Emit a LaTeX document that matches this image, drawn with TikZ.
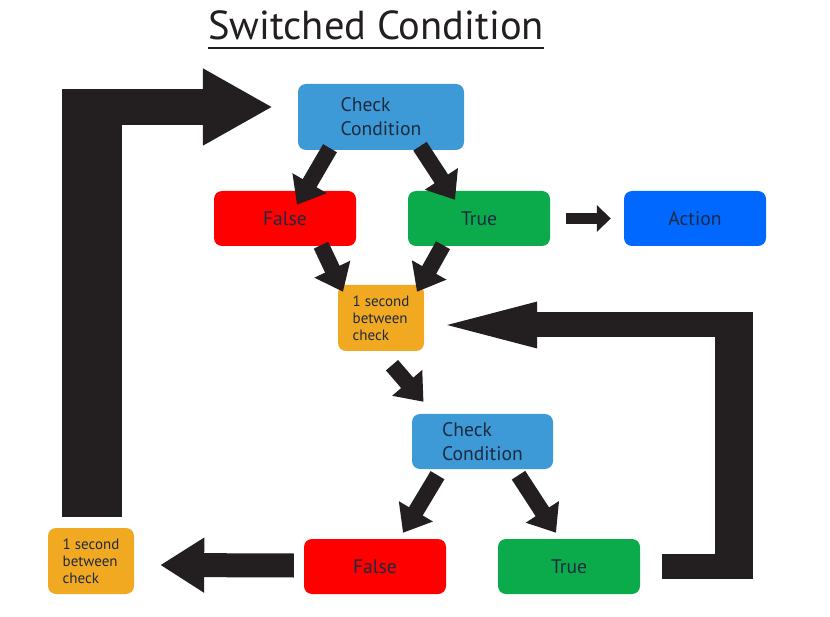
\documentclass[tikz,border=0pt]{standalone}
\usepackage{fontspec}
\setmainfont{PT Sans}
\usetikzlibrary{arrows.meta,calc}
\definecolor{chkblue}{HTML}{3D9AD6}
\definecolor{falsered}{HTML}{FE0000}
\definecolor{truegreen}{HTML}{0BAB4B}
\definecolor{actionblue}{HTML}{0068FE}
\definecolor{waitorange}{HTML}{F2A922}
\definecolor{arrowblack}{HTML}{231F20}
\definecolor{boxtext}{HTML}{1E2A40}
\begin{document}
\begin{tikzpicture}[x=1pt,y=-1pt,
		box/.style={rounded corners=8pt, minimum width=142pt, minimum height=55pt, inner sep=0pt, text=boxtext, font=\fontsize{19.6}{24}\selectfont},
		wait/.style={box, fill=waitorange, minimum width=86pt, minimum height=66pt, align=left, font=\fontsize{15}{17}\selectfont},
		bar/.style={draw=arrowblack},
		flow/.style={bar, line width=16pt, -{Triangle[length=25pt,width=38pt]}}]
	\useasboundingbox[fill=white] (0,0) rectangle (830,617);
	\node[anchor=base, inner sep=0pt, text=arrowblack, font=\fontsize{40.5}{42}\selectfont] (title) at (376,40) {Switched Condition};
	\draw[arrowblack, line width=1.6pt] ([yshift=-8pt]title.base west) -- ([yshift=-8pt]title.base east);

	\node[box, fill=chkblue, minimum width=166pt, minimum height=66pt, align=left] (chk1) at (381,117) {Check\\Condition};
	\node[box, fill=falsered] (false1) at (285,218.5) {False};
	\node[box, fill=truegreen] (true1) at (479,218.5) {True};
	\node[box, fill=actionblue] (action) at (695,218.5) {Action};
	\node[wait] (wait1) at (381,318) {1 second\\between\\check};
	\node[box, fill=chkblue, minimum width=141pt, align=left] (chk2) at (482.5,441.5) {Check\\Condition};
	\node[box, fill=falsered] (false2) at (375,566.5) {False};
	\node[box, fill=truegreen] (true2) at (569,566.5) {True};
	\node[wait] (wait2) at (91,561) {1 second\\between\\check};

	\draw[flow] ($(chk1.south)+(-51,-2)$) -- ($(false1.north)+(12,14)$);
	\draw[flow] ($(chk1.south)+(39,-4)$) -- ($(true1.north)+(-24,9)$);
	\draw[flow] ($(false1.south)+(36,-1)$) -- ($(wait1.north)+(-38,7)$);
	\draw[flow] ($(true1.south)+(-36,-1)$) -- ($(wait1.north)+(36,7)$);
	\draw[flow] ($(wait1.south)+(11,14)$) -- ($(chk2.north)+(-59,-12)$);
	\draw[flow] ($(chk2.south)+(-45,6)$) -- ($(false2.north)+(28,-6)$);
	\draw[flow] ($(chk2.south)+(36,6)$) -- ($(true2.north)+(-13,-6)$);
	\draw[bar, line width=11pt, -{Triangle[length=14pt,width=26pt]}] ($(true1.east)+(16,0)$) -- ($(action.west)+(-13,0)$);
	\draw[bar, line width=24pt, -{Triangle[length=44pt,width=52pt]}] ($(false2.west)+(-10,-1)$) -- ($(wait2.east)+(26,4)$);

	% loop back to the top
	\coordinate (ltail) at ($(wait2.north)+(1,-11)$);
	\coordinate (ltip) at ($(chk1.west)+(-25,-10)$);
	\draw[bar, line width=60pt] (ltail) -- ($(ltail |- ltip)+(0,-18)$);
	\draw[bar, line width=36pt, -{Triangle[length=70pt,width=72pt]}] ($(ltail |- ltip)+(-30,0)$) -- (ltip);

	% loop back to the wait
	\coordinate (rtail) at ($(true2.east)+(22,0)$);
	\coordinate (rtip) at ($(wait1.east)+(23,7)$);
	\draw[bar, line width=25pt] (rtail) -- ++(91,0);
	\draw[bar, line width=38pt] ($(rtail)+(72,12.5)$) -- ($(rtip -| rtail)+(72,-12.5)$);
	\draw[bar, line width=25pt, -{Triangle[length=90pt,width=47pt,line width=0pt]}] ($(rtip -| rtail)+(91,0)$) -- (rtip);
\end{tikzpicture}
\end{document}
